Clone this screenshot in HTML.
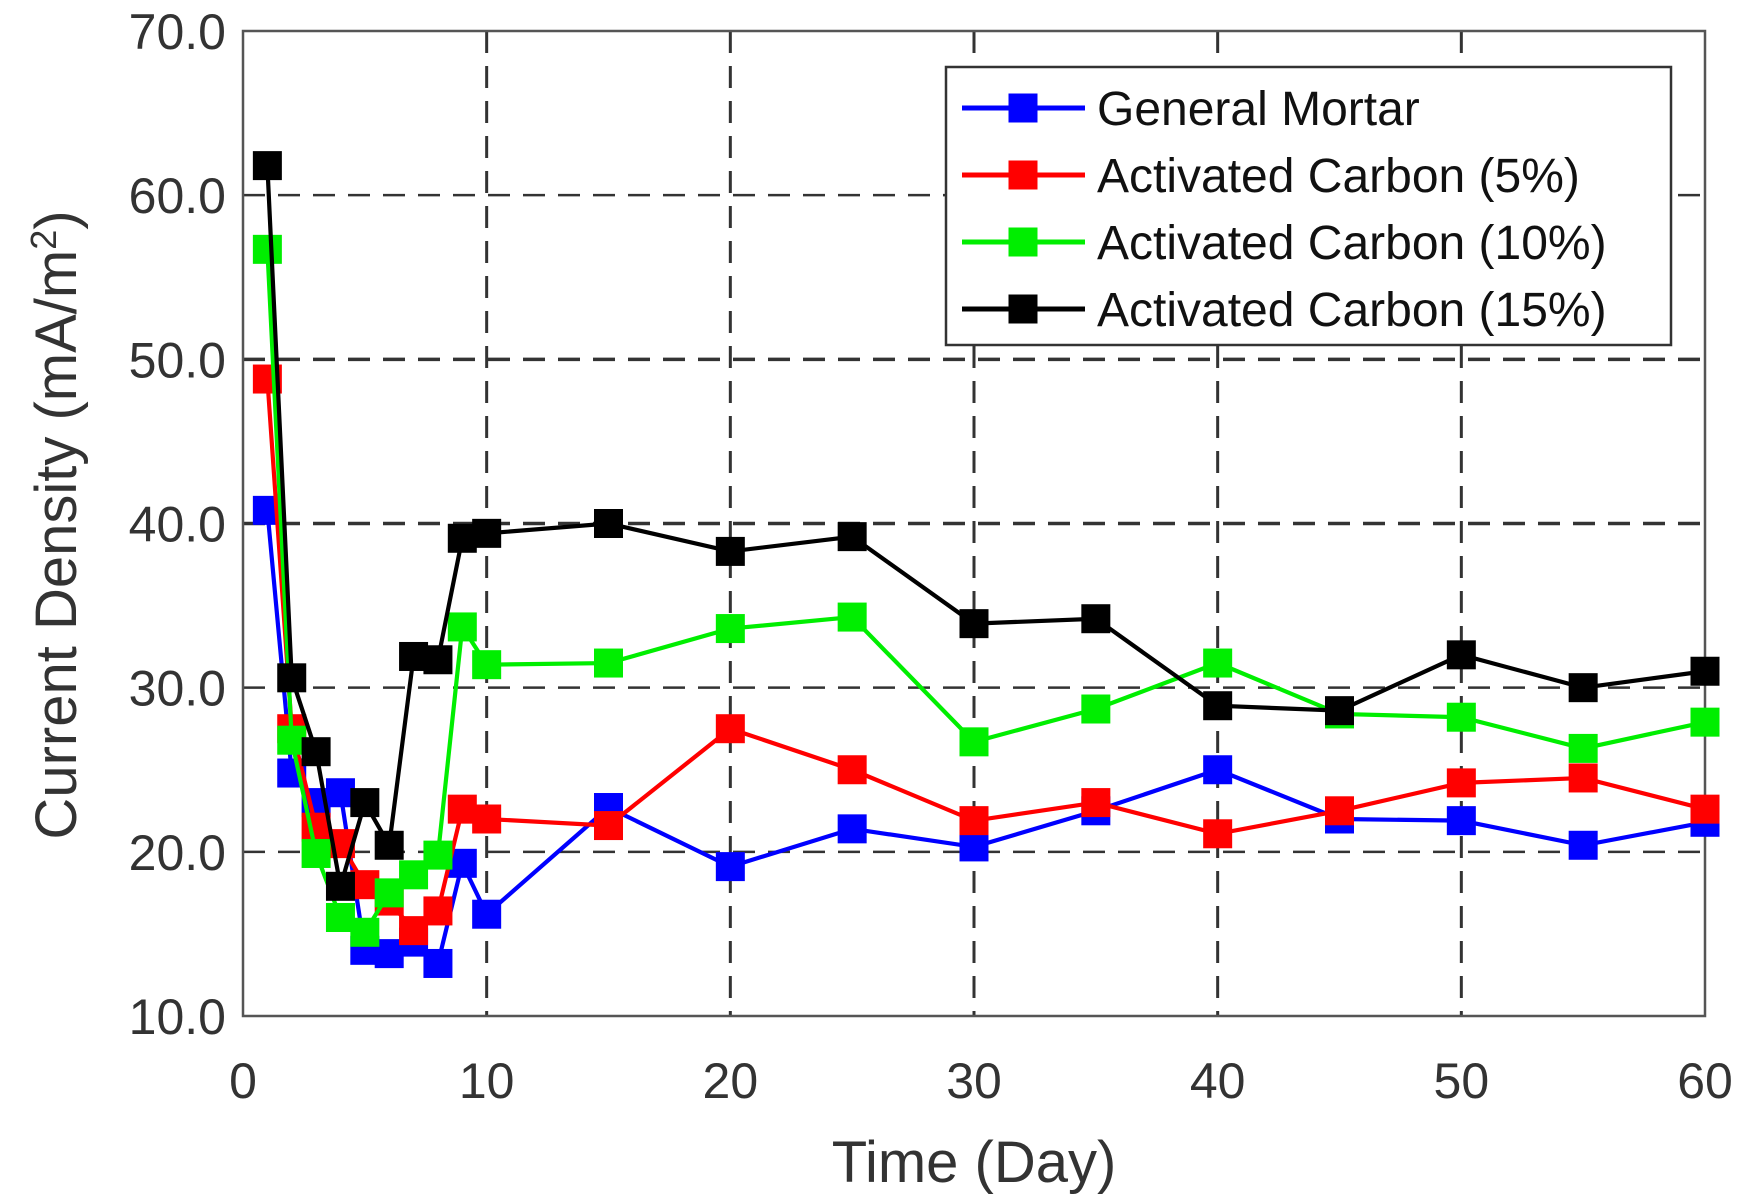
<!DOCTYPE html>
<html><head><meta charset="utf-8"><style>
html,body{margin:0;padding:0;background:#fff;}
svg{display:block;font-family:"Liberation Sans",Arial,sans-serif;}
</style></head><body>
<svg id="chart" width="1741" height="1200" viewBox="0 0 1741 1200">
<g id="grid"></g>
<rect x="243" y="31" width="1462" height="985" fill="none" stroke="#555" stroke-width="2.5"/>
<g id="ticks"></g>
<g id="series"></g>
<text x="974" y="1182" font-size="58" text-anchor="middle" fill="#333">Time (Day)</text>
<text transform="translate(76,525) rotate(-90)" font-size="58" text-anchor="middle" fill="#333">Current Density (mA/m<tspan baseline-shift="super" font-size="36">2</tspan>)</text>
<g id="legend">
<rect x="946" y="67" width="725" height="278" fill="#fff" stroke="#333" stroke-width="2.5"/>
</g>
</svg>
<script>
const days = [1,2,3,4,5,6,7,8,9,10,15,20,25,30,35,40,45,50,55,60];
const generalMortar = [40.8,24.8,23.0,23.6,14.0,13.8,14.5,13.2,19.3,16.2,22.7,19.1,21.4,20.3,22.5,25.0,22.0,21.9,20.4,21.8];
const carbon5 = [48.8,27.5,21.5,20.5,18.0,17.0,15.2,16.4,22.6,22.0,21.6,27.5,25.0,21.9,23.0,21.1,22.5,24.2,24.5,22.6];
const carbon10 = [56.7,26.8,19.9,16.0,15.1,17.5,18.6,19.8,33.7,31.4,31.5,33.6,34.3,26.7,28.7,31.5,28.4,28.2,26.3,27.9];
const carbon15 = [61.8,30.6,26.1,17.9,23.0,20.4,31.9,31.7,39.1,39.4,40.0,38.3,39.2,33.9,34.2,28.9,28.6,32.0,30.0,31.0];
const seriesNames = ["General Mortar","Activated Carbon (5%)","Activated Carbon (10%)","Activated Carbon (15%)"];
const xTicks = [0,10,20,30,40,50,60];
const yTicks = [10,20,30,40,50,60,70];
const yTickLabels = ["10.0","20.0","30.0","40.0","50.0","60.0","70.0"];

const NS="http://www.w3.org/2000/svg";
const X0=243,X1=1705,Y0=1016,Y1=31;
const xs=d=>X0+(d-0)/(60-0)*(X1-X0);
const ys=v=>Y0-(v-10)/(70-10)*(Y0-Y1);
function mk(tag,attrs,parent){const e=document.createElementNS(NS,tag);for(const k in attrs)e.setAttribute(k,attrs[k]);parent.appendChild(e);return e;}
const grid=document.getElementById('grid'),ticks=document.getElementById('ticks'),ser=document.getElementById('series'),leg=document.getElementById('legend');
xTicks.forEach((t,i)=>{
  const x=xs(t);
  if(t>0&&t<60){const l=mk('line',{x1:x,x2:x,y1:Y1,y2:Y0,stroke:'#333','stroke-width':3,'stroke-dasharray':'22,13'},grid);
  
  }
  const tk=mk('text',{x:x,y:1098,'font-size':50,'text-anchor':'middle',fill:'#333'},ticks);
  tk.textContent=String(t);
  
  
});
yTicks.forEach((t,i)=>{
  const y=ys(t);
  if(t>10&&t<70){const l=mk('line',{x1:X0,x2:X1,y1:y,y2:y,stroke:'#333','stroke-width':(t==40||t==50)?3.5:2.5,'stroke-dasharray':'22,13'},grid);
  
  }
  const tk=mk('text',{x:226,y:y+18,'font-size':50,'text-anchor':'end',fill:'#333'},ticks);
  tk.textContent=yTickLabels[i];
  
  
});
const allSeries=[generalMortar,carbon5,carbon10,carbon15];
const colors=['#0000ff','#ff0000','#00ee00','#000000'];
const M=29;
allSeries.forEach((vals,si)=>{
  const g=mk('g',{},ser);
  
  
  const pts=vals.map((v,i)=>xs(days[i])+','+ys(v)).join(' ');
  const pl=mk('polyline',{points:pts,fill:'none',stroke:colors[si],'stroke-width':4.2},g);
  
  
  vals.forEach((v,i)=>{
    const r=mk('rect',{x:xs(days[i])-M/2,y:ys(v)-M/2,width:M,height:M,fill:colors[si]},g);
    
    
  });
  const ly=108+si*67;
  const lg=mk('g',{},leg);
  
  
  mk('line',{x1:962,x2:1085,y1:ly,y2:ly,stroke:colors[si],'stroke-width':5},lg);
  mk('rect',{x:1023-M/2,y:ly-M/2,width:M,height:M,fill:colors[si]},lg);
  const tx=mk('text',{x:1097,y:ly+17,'font-size':48,fill:'#111'},lg);
  tx.textContent=seriesNames[si];
});
</script>
</body></html>
